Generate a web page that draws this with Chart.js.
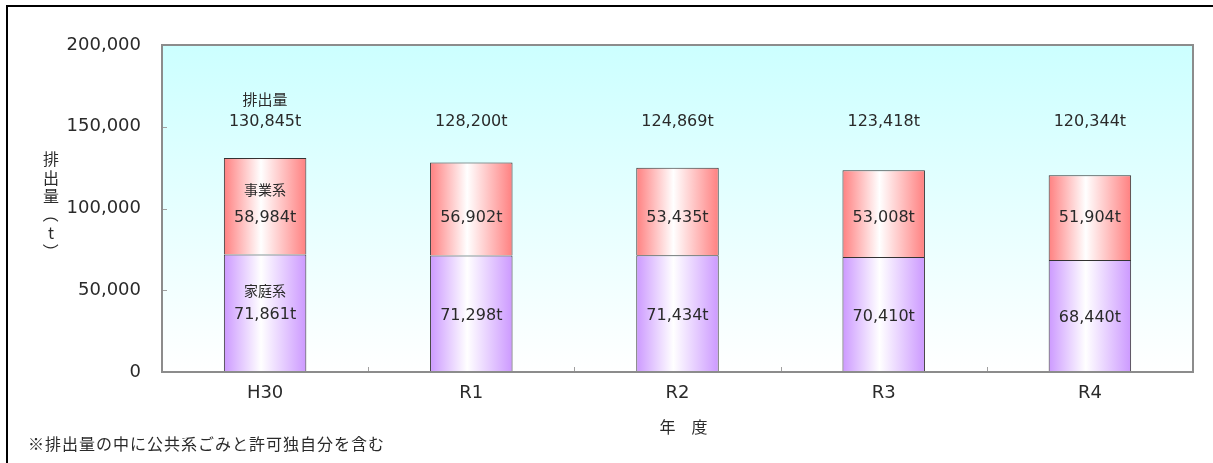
<!DOCTYPE html>
<html><head><meta charset="utf-8">
<script src="https://cdn.jsdelivr.net/npm/chart.js@4.4.1/dist/chart.umd.min.js"></script>
<style>html,body{margin:0;padding:0;background:#fff;}canvas{display:block;}</style>
</head><body>
<canvas id="c" width="1213" height="463"></canvas>
<script>
const categories = ['H30', 'R1', 'R2', 'R3', 'R4'];
const household = [71861, 71298, 71434, 70410, 68440];   // 家庭系
const business = [58984, 56902, 53435, 53008, 51904];    // 事業系
const totals = [130845, 128200, 124869, 123418, 120344]; // 排出量
const yTicks = [0, 50000, 100000, 150000, 200000];
const seriesNames = ['家庭系', '事業系'];
const totalName = '排出量';
const yTitle = ['排', '出', '量', '（', 't', '）'];
const xTitle = '年　度';
const footnote = '※排出量の中に公共系ごみと許可独自分を含む';

const fmt = v => v.toLocaleString('en-US');
const NUM_FONT = '"DejaVu Sans", sans-serif';
const JP_FONT = '"Noto Sans CJK JP", sans-serif';
const BAR_PCT = 0.4;
const TEXT = '#2a2a2a';

function barGradient(ctx, edge) {
  const chart = ctx.chart;
  const xs = chart.scales.x;
  if (!xs || !chart.chartArea) return edge;
  const cx = xs.getPixelForValue(ctx.dataIndex);
  const w = xs.width / categories.length * BAR_PCT;
  const g = chart.ctx.createLinearGradient(cx - w / 2, 0, cx + w / 2, 0);
  g.addColorStop(0, edge);
  g.addColorStop(0.45, '#ffffff');
  g.addColorStop(1, edge);
  return g;
}

const decor = {
  id: 'decor',
  beforeDatasetsDraw(chart) {
    const { ctx, chartArea: a } = chart;
    ctx.save();
    const g = ctx.createLinearGradient(0, a.top, 0, a.bottom);
    g.addColorStop(0, '#ccffff');
    g.addColorStop(1, '#ffffff');
    ctx.fillStyle = g;
    ctx.fillRect(a.left, a.top, a.right - a.left, a.bottom - a.top);
    ctx.strokeStyle = '#a0a0a0';
    ctx.lineWidth = 1;
    const ys = chart.scales.y, xs = chart.scales.x;
    yTicks.forEach(v => {
      const y = Math.round(ys.getPixelForValue(v)) + 0.5;
      ctx.beginPath(); ctx.moveTo(a.left, y); ctx.lineTo(a.left + 5, y); ctx.stroke();
    });
    const cw = xs.width / categories.length;
    for (let i = 1; i < categories.length; i++) {
      const x = Math.round(a.left + cw * i) + 0.5;
      ctx.beginPath(); ctx.moveTo(x, a.bottom); ctx.lineTo(x, a.bottom - 5); ctx.stroke();
    }
    ctx.restore();
  },
  afterDatasetsDraw(chart) {
    const { ctx, chartArea: a } = chart;
    const ys = chart.scales.y, xs = chart.scales.x;
    ctx.save();
    ctx.strokeStyle = '#8c8c8c';
    ctx.lineWidth = 2;
    ctx.strokeRect(a.left, a.top, a.right - a.left, a.bottom - a.top);
    ctx.strokeStyle = '#000';
    ctx.lineWidth = 2;
    ctx.beginPath(); ctx.moveTo(7, 463); ctx.lineTo(7, 6); ctx.lineTo(1213, 6); ctx.stroke();

    ctx.fillStyle = TEXT;
    ctx.textAlign = 'center';
    ctx.textBaseline = 'middle';
    const m0 = chart.getDatasetMeta(0);
    categories.forEach((c, i) => {
      const x = xs.getPixelForValue(i);
      const ty = ys.getPixelForValue(152900);
      ctx.font = '16px ' + NUM_FONT;
      ctx.fillText(fmt(totals[i]) + 't', x, ty);
      if (i === 0) { ctx.font = '15px ' + JP_FONT; ctx.fillText(totalName, x, ty - 23); }
      const by = ys.getPixelForValue(94200);
      ctx.font = '16px ' + NUM_FONT;
      ctx.fillText(fmt(business[i]) + 't', x, by);
      if (i === 0) { ctx.font = '14px ' + JP_FONT; ctx.fillText(seriesNames[1], x, by - 28); }
      const e = m0.data[i];
      const hy = (e.y + e.base) / 2 + 2;
      ctx.font = '16px ' + NUM_FONT;
      ctx.fillText(fmt(household[i]) + 't', x, hy);
      if (i === 0) { ctx.font = '14px ' + JP_FONT; ctx.fillText(seriesNames[0], x, hy - 25); }
    });
    // y title stacked vertically, brackets rotated
    ctx.font = '16px ' + JP_FONT;
    yTitle.forEach((ch, k) => {
      const y = 159 + k * 18.5;
      if (ch === '（' || ch === '）') {
        ctx.save(); ctx.translate(51, y); ctx.rotate(Math.PI / 2); ctx.fillText(ch, 0, 0); ctx.restore();
      } else {
        ctx.fillText(ch, 51, y);
      }
    });
    ctx.fillText(xTitle, (a.left + a.right) / 2 + 6, 427);
    ctx.textAlign = 'left';
    ctx.letterSpacing = '1px';
    ctx.fillText(footnote, 28, 444);
    ctx.restore();
  }
};

new Chart(document.getElementById('c'), {
  type: 'bar',
  data: {
    labels: categories,
    datasets: [
      { label: seriesNames[0], data: household, backgroundColor: c => barGradient(c, '#cc99ff'),
        borderColor: '#333333', borderWidth: 1, barPercentage: BAR_PCT, categoryPercentage: 1 },
      { label: seriesNames[1], data: business, backgroundColor: c => barGradient(c, '#ff8080'),
        borderColor: '#333333', borderWidth: 1, barPercentage: BAR_PCT, categoryPercentage: 1 }
    ]
  },
  options: {
    responsive: false,
    animation: false,
    devicePixelRatio: 1,
    layout: { padding: { top: 45, right: 20, left: 0, bottom: 0 } },
    plugins: { legend: { display: false }, tooltip: { enabled: false } },
    scales: {
      x: {
        stacked: true,
        grid: { display: false, drawTicks: false },
        border: { display: false },
        ticks: { color: TEXT, font: { family: NUM_FONT, size: 18 }, padding: 11 },
        afterFit: s => { s.height = 91; }
      },
      y: {
        stacked: true,
        min: 0, max: 200000,
        afterBuildTicks: s => { s.ticks = yTicks.map(v => ({ value: v })); },
        grid: { display: false, drawTicks: false },
        border: { display: false },
        ticks: { color: TEXT, font: { family: NUM_FONT, size: 18 }, padding: 21, callback: v => fmt(v) },
        afterFit: s => { s.width = 162; }
      }
    }
  },
  plugins: [decor]
});
</script>
</body></html>
